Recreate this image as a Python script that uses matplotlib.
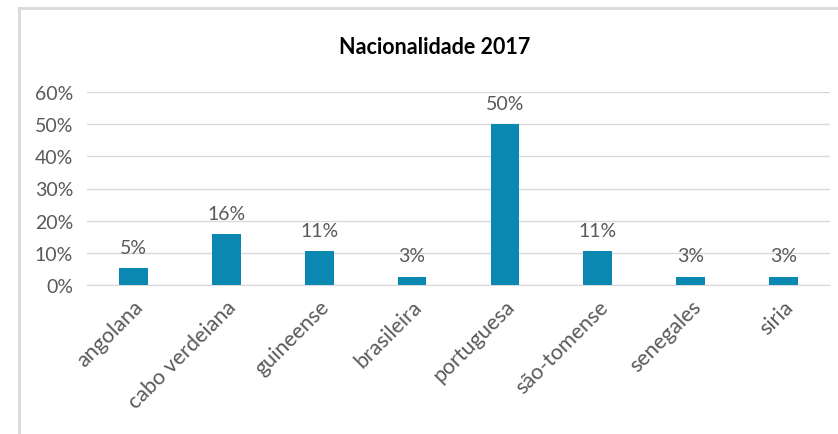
import matplotlib
matplotlib.use("Agg")
import matplotlib.pyplot as plt
from matplotlib.lines import Line2D

categories = ["angolana", "cabo verdeiana", "guineense", "brasileira",
              "portuguesa", "são-tomense", "senegales", "siria"]
counts = [2, 6, 4, 1, 19, 4, 1, 1]
yticks = [0, 0.1, 0.2, 0.3, 0.4, 0.5, 0.6]

total = sum(counts)
shares = [c / total for c in counts]

plt.rcParams["font.family"] = ["Lato", "DejaVu Sans"]
grey = "#595959"
bar_color = "#0a88b2"

fig = plt.figure(figsize=(8.38, 4.35), dpi=100, facecolor="white")
ax = fig.add_axes([87 / 838, 1 - 286 / 435, (830 - 87) / 838, (286 - 93) / 435])

x = list(range(len(categories)))
ax.bar(x, shares, width=0.31, color=bar_color, zorder=3)
for xi, s in zip(x, shares):
    ax.annotate(f"{s:.0%}", (xi, s), xytext=(0, 9), textcoords="offset points",
                ha="center", va="bottom", fontsize=14, color=grey)

ax.set_xlim(-0.5, len(categories) - 0.5)
ax.set_ylim(0, 0.6)
ax.set_yticks(yticks)
ax.set_yticklabels([f"{t:.0%}" for t in yticks], fontsize=14, color=grey)
ax.set_xticks(x)
ax.set_xticklabels(categories, rotation=45, ha="right", va="top",
                   rotation_mode="anchor", fontsize=15.5, color=grey)
ax.tick_params(axis="both", length=0)
ax.tick_params(axis="x", pad=8)
ax.tick_params(axis="y", pad=10)
ax.grid(axis="y", color="#d9d9d9", linewidth=1, zorder=0)
for side in ["top", "right", "left"]:
    ax.spines[side].set_visible(False)
ax.spines["bottom"].set_color("#d9d9d9")

fig.text(435 / 838, 1 - 47 / 435, "Nacionalidade 2017", ha="center", va="center",
         fontsize=15.5, fontweight="bold", color="black")

# chart frame (cut off on the right and bottom)
fx = 19 / 838
fy = 1 - 9 / 435
fig.add_artist(Line2D([fx, fx], [0, fy], transform=fig.transFigure, color="#d9d9d9", linewidth=2))
fig.add_artist(Line2D([fx, 1], [fy, fy], transform=fig.transFigure, color="#d9d9d9", linewidth=2))

fig.savefig("out.png", dpi=100, facecolor="white")
